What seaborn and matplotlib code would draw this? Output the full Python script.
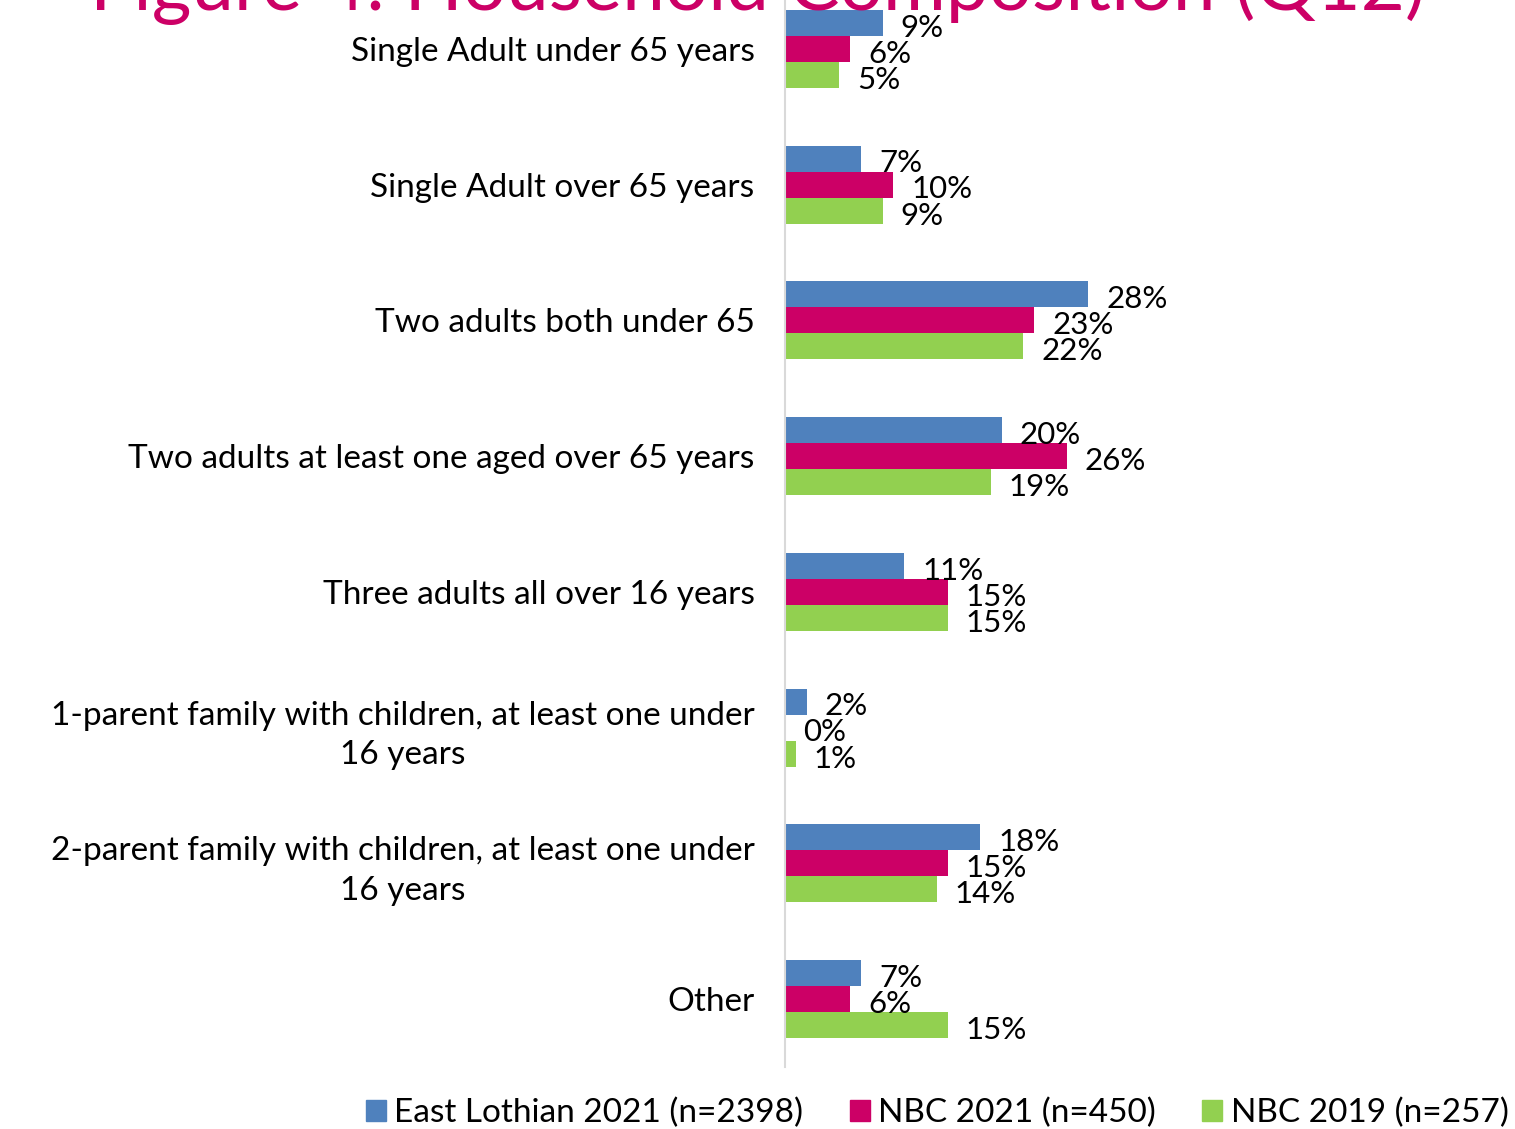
import matplotlib
matplotlib.use("Agg")
import matplotlib.pyplot as plt
import pandas as pd
import seaborn as sns

categories = [
    "Single Adult under 65 years",
    "Single Adult over 65 years",
    "Two adults both under 65",
    "Two adults at least one aged over 65 years",
    "Three adults all over 16 years",
    "1-parent family with children, at least one under\n16 years",
    "2-parent family with children, at least one under\n16 years",
    "Other",
]
series = ["East Lothian 2021 (n=2398)", "NBC 2021 (n=450)", "NBC 2019 (n=257)"]
east_lothian_2021 = [9, 7, 28, 20, 11, 2, 18, 7]
nbc_2021 = [6, 10, 23, 26, 15, 0, 15, 6]
nbc_2019 = [5, 9, 22, 19, 15, 1, 14, 15]
colors = ["#4F81BD", "#CC0066", "#92D050"]

df = pd.DataFrame({
    "category": categories * 3,
    "survey": [s for s in series for _ in categories],
    "value": east_lothian_2021 + nbc_2021 + nbc_2019,
})

sns.set_theme(style="white")
plt.rcParams["font.family"] = ["Lato", "DejaVu Sans"]

W, H = 1515, 1129
fig = plt.figure(figsize=(W / 100, H / 100), dpi=100)
ax = fig.add_axes([785 / W, 1 - 1067 / H, 715 / W, 1086 / H])

sns.barplot(
    data=df, y="category", x="value", hue="survey", orient="h",
    palette=colors, width=0.575, saturation=1, ax=ax, legend=False,
    order=categories, hue_order=series, linewidth=0,
)
for cont in ax.containers:
    labels = ax.bar_label(cont, fmt="%d%%", padding=13, fontsize=22.5, color="black")
    for t in labels:
        t.xyann = (13, -3.5)

ax.set_xlim(0, 66)
ax.set_ylim(7.5, -0.5)
ax.set_xlabel("")
ax.set_ylabel("")
ax.set_xticks([])
for side in ["top", "right", "bottom"]:
    ax.spines[side].set_visible(False)
ax.spines["left"].set_color("#D9D9D9")
ax.spines["left"].set_linewidth(1.5)
ax.tick_params(axis="y", length=0, pad=22, labelsize=24, labelcolor="black")
for lbl in ax.get_yticklabels():
    lbl.set_multialignment("center")
    lbl.set_linespacing(1.4)

fig.text(0.5, 1 - 10 / H, "Figure 4: Household Composition (Q12)",
         ha="center", va="baseline", fontsize=55, color="#CC0066")

handles = [plt.Rectangle((0, 0), 1, 1, color=c) for c in colors]
fig.legend(handles, series, loc="center", ncol=3, frameon=False,
           bbox_to_anchor=(937 / W, 1 - 1113 / H), fontsize=24,
           labelcolor="black", handlelength=0.6, handleheight=0.6,
           handletextpad=0.25, columnspacing=1.4)

fig.savefig("out.png", dpi=100)
